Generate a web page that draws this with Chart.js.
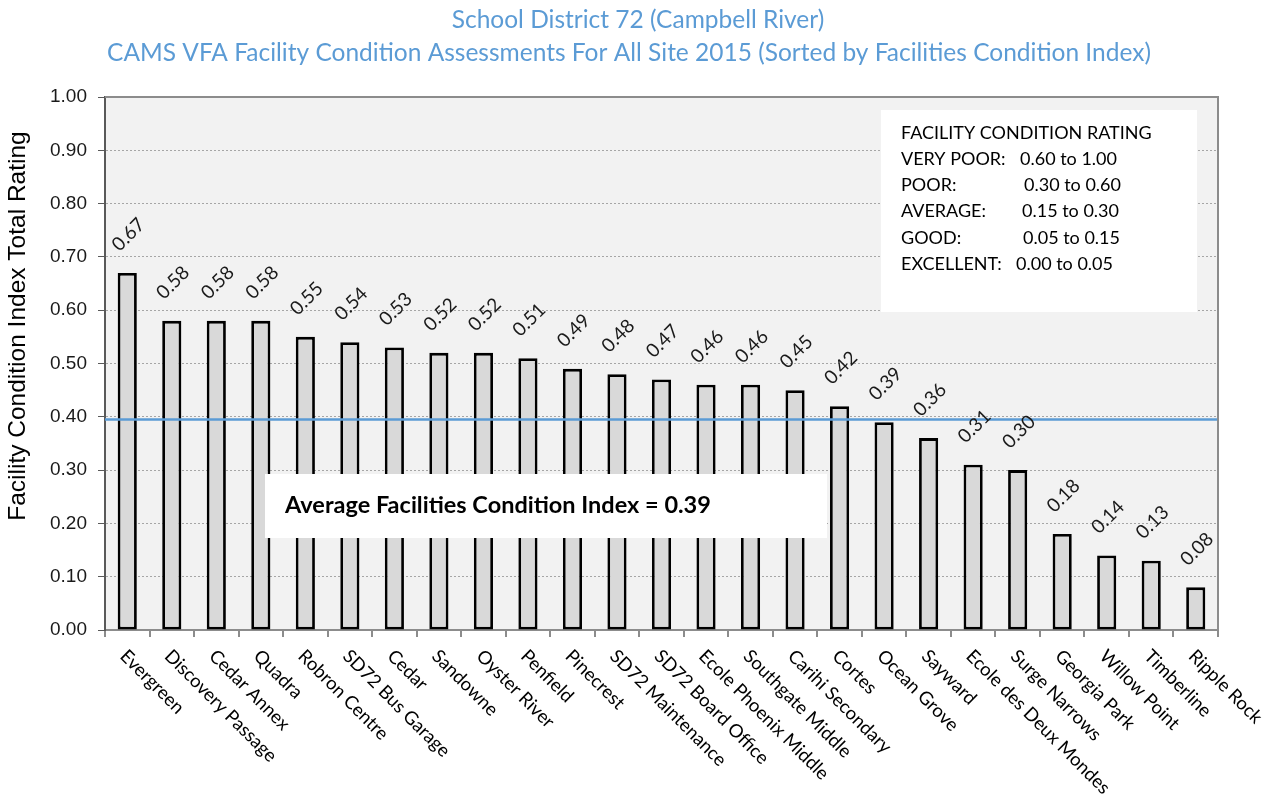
<!DOCTYPE html>
<html>
<head>
<meta charset="utf-8">
<script src="https://cdn.jsdelivr.net/npm/chart.js@4.4.0/dist/chart.umd.min.js"></script>
<style>
  body { margin: 0; background: #fff; }
  canvas { display: block; }
</style>
</head>
<body>
<canvas id="chart" width="1278" height="794"></canvas>
<script>
// chart data
const titleLines = [
  'School District 72 (Campbell River)',
  'CAMS VFA Facility Condition Assessments For All Site 2015 (Sorted by Facilities Condition Index)'
];
const yAxisTitle = 'Facility Condition Index Total Rating';
const facilities = [
  'Evergreen', 'Discovery Passage', 'Cedar Annex', 'Quadra', 'Robron Centre',
  'SD72 Bus Garage', 'Cedar', 'Sandowne', 'Oyster River', 'Penfield',
  'Pinecrest', 'SD72 Maintenance', 'SD72 Board Office', 'Ecole Phoenix Middle', 'Southgate Middle',
  'Carihi Secondary', 'Cortes', 'Ocean Grove', 'Sayward', 'Ecole des Deux Mondes',
  'Surge Narrows', 'Georgia Park', 'Willow Point', 'Timberline', 'Ripple Rock'
];
const fciValues = [
  0.67, 0.58, 0.58, 0.58, 0.55,
  0.54, 0.53, 0.52, 0.52, 0.51,
  0.49, 0.48, 0.47, 0.46, 0.46,
  0.45, 0.42, 0.39, 0.36, 0.31,
  0.30, 0.18, 0.14, 0.13, 0.08
];
const averageFci = 0.395;
const averageText = 'Average Facilities Condition Index = 0.39';
const ratingTitle = 'FACILITY CONDITION RATING';
const ratingNames = ['VERY POOR:', 'POOR:', 'AVERAGE:', 'GOOD:', 'EXCELLENT:'];
const ratingRanges = ['0.60 to 1.00', '0.30 to 0.60', '0.15 to 0.30', '0.05 to 0.15', '0.00 to 0.05'];

const FONT = 'Lato, "Open Sans", sans-serif';
const ARIAL = '"Liberation Sans", Arial, sans-serif';
const blue = '#5b9bd5';

const extras = {
  id: 'extras',
  beforeDraw(chart) {
    const { ctx, chartArea: a } = chart;
    ctx.save();
    ctx.fillStyle = '#f2f2f2';
    ctx.fillRect(a.left, a.top, a.right - a.left, a.bottom - a.top);
    ctx.restore();
  },
  afterDatasetsDraw(chart) {
    const { ctx, chartArea: a, scales } = chart;
    const y = scales.y;
    ctx.save();

    // average line
    const ya = y.getPixelForValue(averageFci);
    ctx.strokeStyle = blue;
    ctx.lineWidth = 2.5;
    ctx.beginPath();
    ctx.moveTo(a.left, ya);
    ctx.lineTo(a.right, ya);
    ctx.stroke();

    // value labels
    const meta = chart.getDatasetMeta(0);
    ctx.fillStyle = '#1a1a1a';
    ctx.font = '19px ' + FONT;
    ctx.textAlign = 'left';
    ctx.textBaseline = 'middle';
    meta.data.forEach((bar, i) => {
      ctx.save();
      ctx.translate(bar.x - 12, bar.y - 25);
      ctx.rotate(-Math.PI / 4);
      ctx.fillText(fciValues[i].toFixed(2), 0, 0);
      ctx.restore();
    });

    // average text box
    ctx.fillStyle = '#fff';
    ctx.fillRect(265, 474, 562, 64);
    ctx.fillStyle = '#000';
    ctx.font = 'bold 23.5px ' + FONT;
    ctx.fillText(averageText, 285, 505);

    // rating box
    ctx.fillStyle = '#fff';
    ctx.fillRect(881, 110, 316, 202);
    ctx.fillStyle = '#000';
    ctx.font = '18px ' + FONT;
    ctx.fillText(ratingTitle, 901, 133);
    const rangeX = [1020, 1024, 1022, 1023, 1016];
    ratingNames.forEach((n, i) => {
      ctx.fillText(n, 901, 159 + i * 26.3);
      ctx.fillText(ratingRanges[i], rangeX[i], 159 + i * 26.3);
    });
    ctx.restore();
  },
  afterDraw(chart) {
    const { ctx, chartArea: a, scales } = chart;
    ctx.save();
    // frame top / right
    ctx.strokeStyle = '#8c8c8c';
    ctx.lineWidth = 2;
    ctx.beginPath();
    ctx.moveTo(a.left, a.top);
    ctx.lineTo(a.right, a.top);
    ctx.lineTo(a.right, a.bottom);
    ctx.stroke();

    // x labels, rotated clockwise
    ctx.fillStyle = '#000';
    ctx.font = '18.5px ' + FONT;
    ctx.textAlign = 'left';
    ctx.textBaseline = 'middle';
    facilities.forEach((name, i) => {
      const x = scales.x.getPixelForValue(i);
      ctx.save();
      ctx.translate(x - 4, a.bottom + 23);
      ctx.rotate(Math.PI / 4);
      ctx.fillText(name, 0, 0);
      ctx.restore();
    });

    // y axis title
    ctx.save();
    ctx.translate(25, 326);
    ctx.rotate(-Math.PI / 2);
    ctx.textAlign = 'center';
    ctx.textBaseline = 'alphabetic';
    ctx.font = '24.5px ' + ARIAL;
    ctx.fillText(yAxisTitle, 0, 0);
    ctx.restore();

    // title
    ctx.fillStyle = blue;
    ctx.font = '24.5px ' + FONT;
    ctx.textAlign = 'center';
    ctx.fillText(titleLines[0], 638, 20);
    ctx.fillText(titleLines[1], 629, 53);
    ctx.restore();
  }
};

new Chart(document.getElementById('chart'), {
  type: 'bar',
  data: {
    labels: facilities,
    datasets: [{
      data: fciValues,
      backgroundColor: '#d9d9d9',
      borderColor: '#000',
      borderWidth: 2.8,
      borderSkipped: false,
      barPercentage: 0.43,
      categoryPercentage: 1
    }]
  },
  options: {
    responsive: false,
    animation: false,
    layout: { padding: { top: 97, right: 60, left: 0, bottom: 0 } },
    plugins: {
      legend: { display: false },
      tooltip: { enabled: false }
    },
    scales: {
      x: {
        offset: true,
        ticks: { display: false },
        grid: { drawOnChartArea: false, drawTicks: true, tickLength: 7, color: '#8c8c8c', lineWidth: 2, offset: true },
        border: { color: '#8c8c8c', width: 2 },
        afterFit(scale) { scale.height = 794 - 630; }
      },
      y: {
        min: 0,
        max: 1,
        ticks: {
          stepSize: 0.1,
          padding: 11,
          color: '#1a1a1a',
          font: { family: ARIAL, size: 19 },
          callback: v => v.toFixed(2)
        },
        grid: { color: '#a6a6a6', lineWidth: 1, tickLength: 7, tickColor: '#595959', tickBorderDash: [] },
        border: { color: '#595959', width: 2, dash: [2, 2] },
        afterFit(scale) { scale.width = 105; }
      }
    }
  },
  plugins: [extras]
});
</script>
</body>
</html>
